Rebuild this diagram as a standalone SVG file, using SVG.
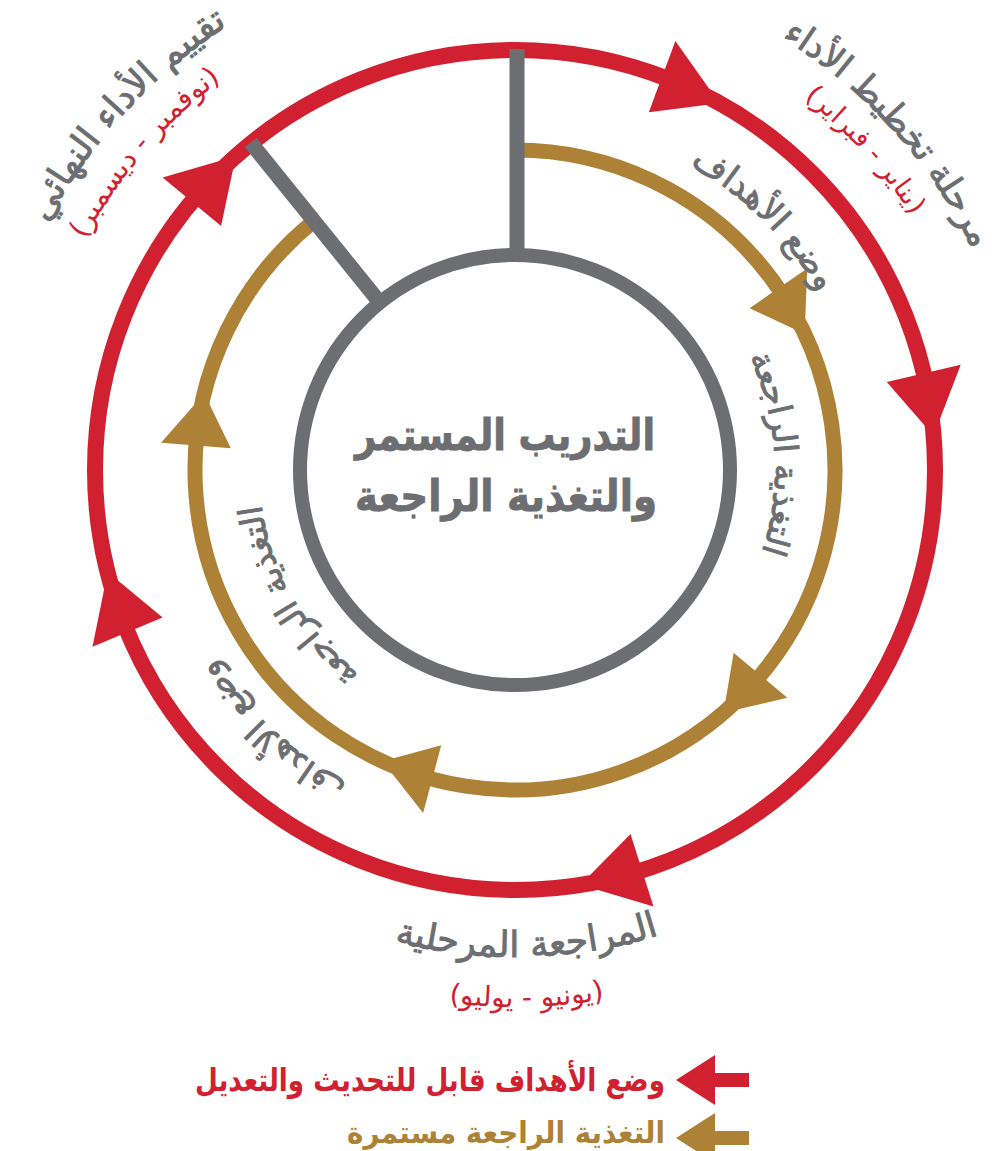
<svg xmlns="http://www.w3.org/2000/svg" width="992" height="1151" viewBox="0 0 992 1151">
<style>
.red{fill:none;stroke:#D1202F;stroke-width:16}
.gold{fill:none;stroke:#AD8237;stroke-width:15}
.gray{fill:none;stroke:#6D6E71;stroke-width:14}
.ln{fill:none;stroke:#6D6E71;stroke-width:15}
.ra{fill:#D1202F}
.ga{fill:#AD8237}
.ar{font-family:'DejaVu Sans',sans-serif}
.tg{fill:#6D6E71;stroke:#6D6E71;stroke-width:0.9}
.tr{fill:#D1202F}
.to{fill:#AD8237}
</style>
<defs>
<path id="pTRm" d="M515,-38 A508,508 0 1 1 515,978 A508,508 0 1 1 515,-38"/>
<path id="pTRs" d="M515,-1 A471,471 0 1 1 515,941 A471,471 0 1 1 515,-1"/>
<path id="pTLm" d="M515,-59 A529,529 0 1 1 515,999 A529,529 0 1 1 515,-59"/>
<path id="pTLs" d="M515,-18 A488,488 0 1 1 515,958 A488,488 0 1 1 515,-18"/>
<path id="pG1" d="M515,118 A352,352 0 1 1 515,822 A352,352 0 1 1 515,118"/>
<path id="pG2" d="M515,115 A355,355 0 1 1 515,825 A355,355 0 1 1 515,115"/>
<path id="pI1" d="M515,210 A260,260 0 1 1 515,730 A260,260 0 1 1 515,210"/>
<path id="pI2" d="M515,214 A256,256 0 1 1 515,726 A256,256 0 1 1 515,214"/>
<path id="pBm" d="M28,470 A487,487 0 0 0 1002,470"/>
<path id="pBs" d="M-22,470 A537,537 0 0 0 1052,470"/>
<polygon id="redArrow" points="515,12 578,54.8 515,88"/>
<polygon id="goldArrow" points="515,115 567.5,154.3 515,185"/>
</defs>

<g id="outer-cycle">
<circle class="red" cx="515" cy="470" r="420"/>
</g>

<g id="inner-cycle">
<path class="gold" d="M515,150 A320,320 0 1 1 314,221"/>
</g>

<g id="connectors">
<line class="ln" x1="517" y1="49" x2="517" y2="257"/>
<line class="ln" x1="250.6" y1="142.5" x2="380.6" y2="303.5"/>
</g>

<g id="center-node">
<circle class="gray" cx="515" cy="470" r="215"/>
<text class="ar tg" x="505" y="450" font-size="43" font-weight="bold" text-anchor="middle" textLength="300" lengthAdjust="spacingAndGlyphs">التدريب المستمر</text>
<text class="ar tg" x="506" y="511" font-size="43" font-weight="bold" text-anchor="middle" textLength="302" lengthAdjust="spacingAndGlyphs">والتغذية الراجعة</text>
</g>

<g id="outer-arrows">
<use href="#redArrow" class="ra" transform="rotate(20.5 515 470)"/>
<use href="#redArrow" class="ra" transform="rotate(76.7 515 470)"/>
<use href="#redArrow" class="ra" transform="rotate(162.4 515 470)"/>
<use href="#redArrow" class="ra" transform="rotate(247.3 515 470)"/>
<use href="#redArrow" class="ra" transform="rotate(309.7 515 470)"/>
</g>

<g id="inner-arrows">
<use href="#goldArrow" class="ga" transform="rotate(55.4 515 470)"/>
<use href="#goldArrow" class="ga" transform="rotate(129.9 515 470)"/>
<use href="#goldArrow" class="ga" transform="rotate(195 515 470)"/>
<use href="#goldArrow" class="ga" transform="rotate(274.4 515 470)"/>
</g>

<g id="label-planning">
<text class="ar tg" font-size="35"><textPath href="#pTRm" startOffset="13.33%" text-anchor="middle">مرحلة تخطيط الأداء</textPath></text>
<text class="ar tr" font-size="27"><textPath href="#pTRs" startOffset="13.22%" text-anchor="middle">(يناير - فبراير)</textPath></text>
</g>

<g id="label-final">
<text class="ar tg" font-size="36"><textPath href="#pTLm" startOffset="86.8%" text-anchor="middle">تقييم الأداء النهائي</textPath></text>
<text class="ar tr" font-size="28"><textPath href="#pTLs" startOffset="86.28%" text-anchor="middle">(نوفمبر - ديسمبر)</textPath></text>
</g>

<g id="label-midyear">
<text class="ar tg" font-size="36"><textPath href="#pBm" startOffset="50.8%" text-anchor="middle">المراجعة المرحلية</textPath></text>
<text class="ar tr" font-size="28"><textPath href="#pBs" startOffset="50.7%" text-anchor="middle">(يونيو - يوليو)</textPath></text>
</g>

<g id="label-goals-1">
<text class="ar tg" font-size="34"><textPath href="#pG1" startOffset="12.44%" text-anchor="middle">وضع الأهداف</textPath></text>
</g>
<g id="label-goals-2">
<text class="ar tg" font-size="34"><textPath href="#pG2" startOffset="61.94%" text-anchor="middle">وضع الأهداف</textPath></text>
</g>
<g id="label-feedback-1">
<text class="ar tg" font-size="33"><textPath href="#pI1" startOffset="23.97%" text-anchor="middle">التغذية الراجعة</textPath></text>
</g>
<g id="label-feedback-2">
<text class="ar tg" font-size="33"><textPath href="#pI2" startOffset="66.6%" text-anchor="middle">التغذية الراجعة</textPath></text>
</g>

<g id="legend">
<g id="legend-red">
<polygon class="ra" points="676,1080 715,1055 715,1105"/>
<rect class="ra" x="713" y="1073" width="36" height="14"/>
<text class="ar tr" x="665" y="1091" font-size="32" font-weight="bold" text-anchor="end" textLength="470" lengthAdjust="spacingAndGlyphs">وضع الأهداف قابل للتحديث والتعديل</text>
</g>
<g id="legend-gold">
<polygon class="ga" points="676,1138 715,1113 715,1163"/>
<rect class="ga" x="713" y="1131" width="36" height="14"/>
<text class="ar to" x="665" y="1143" font-size="30" font-weight="bold" text-anchor="end" textLength="318" lengthAdjust="spacingAndGlyphs">التغذية الراجعة مستمرة</text>
</g>
</g>
</svg>
